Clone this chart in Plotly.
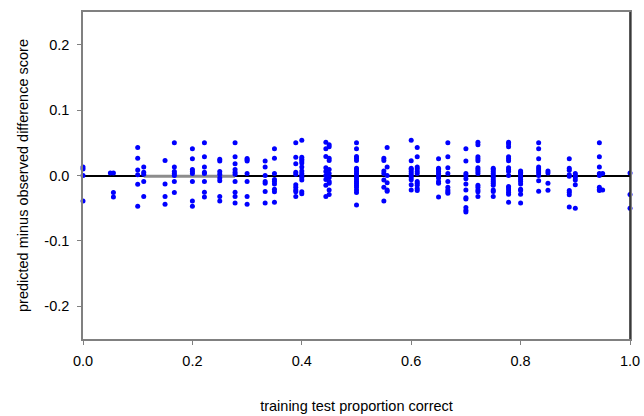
import plotly.graph_objects as go

# x positions (training test proportion correct) and the y values observed at each
x_levels = [0.0, 0.05, 0.0556, 0.1, 0.111, 0.15, 0.167, 0.2, 0.222, 0.25, 0.278, 0.3,
            0.333, 0.35, 0.389, 0.4, 0.444, 0.45, 0.5, 0.55, 0.556, 0.6, 0.611, 0.65,
            0.667, 0.7, 0.722, 0.75, 0.778, 0.8, 0.833, 0.85, 0.889, 0.9, 0.944, 0.95, 1.0]

y_groups = [
    [0.013, 0.010, 0.0, -0.039],
    [0.004],
    [0.004, -0.026, -0.033],
    [0.043, 0.0265, 0.0085, 0.001, -0.0135, -0.047],
    [0.013, 0.005, 0.002, -0.009, -0.032],
    [0.023, -0.013, -0.032, -0.044],
    [0.05, 0.013, 0.006, 0.003, 0.0, -0.009, -0.026],
    [0.041, 0.0255, 0.009, 0.006, 0.003, -0.009, -0.039, -0.047],
    [0.05, 0.0285, 0.013, 0.005, 0.003, -0.009, -0.0255, -0.033],
    [0.025, 0.022, 0.006, 0.002, -0.004, -0.008, -0.032, -0.039],
    [0.05, 0.0285, 0.018, 0.009, 0.005, 0.002, -0.009, -0.0255, -0.032, -0.042],
    [0.026, 0.024, 0.022, 0.003, -0.009, -0.032, -0.044],
    [0.022, 0.013, 0.0, -0.009, -0.012, -0.0245, -0.042],
    [0.041, 0.0265, 0.003, -0.006, -0.009, -0.013, -0.021, -0.025, -0.041],
    [0.05, 0.028, 0.018, 0.005, 0.002, -0.014, -0.018, -0.022, -0.025, -0.032],
    [0.054, 0.028, 0.025, 0.022, 0.019, 0.013, 0.007, 0.003, 0.0, -0.003, -0.007, -0.025, -0.028],
    [0.051, 0.041, 0.029, 0.012, 0.006, 0.0, -0.006, -0.015, -0.032],
    [0.047, 0.044, 0.0265, 0.023, 0.009, 0.003, -0.003, -0.009, -0.012, -0.022, -0.029],
    [0.05, 0.041, 0.029, 0.0265, 0.023, 0.011, 0.009, 0.006, 0.003, 0.0, -0.003, -0.006,
     -0.009, -0.012, -0.015, -0.018, -0.022, -0.026, -0.045],
    [0.0265, 0.023, 0.007, 0.003, -0.007, -0.018, -0.039],
    [0.043, 0.013, 0.0, -0.011, -0.022, -0.024],
    [0.054, 0.0224, 0.011, 0.009, 0.006, 0.003, 0.0, -0.003, -0.0066, -0.014, -0.022],
    [0.043, 0.0285, 0.013, 0.010, 0.006, 0.003, -0.009, -0.012, -0.015, -0.020, -0.023],
    [0.0255, 0.011, 0.009, 0.006, 0.003, 0.0, -0.004, -0.009, -0.012, -0.033],
    [0.05, 0.0285, 0.012, 0.003, -0.009, -0.018, -0.022, -0.025, -0.027],
    [0.041, 0.022, 0.003, 0.0, -0.005, -0.013, -0.022, -0.034, -0.036, -0.049, -0.053, -0.056],
    [0.051, 0.047, 0.0285, 0.0255, 0.0224, 0.012, 0.009, 0.006, 0.003, -0.015, -0.018,
     -0.022, -0.025, -0.032],
    [0.011, 0.009, 0.006, 0.003, 0.0, -0.003, -0.0066, -0.009, -0.012, -0.015, -0.022,
     -0.0245, -0.032],
    [0.051, 0.048, 0.044, 0.0285, 0.0255, 0.0224, 0.012, 0.009, 0.006, 0.0, -0.017, -0.019,
     -0.022, -0.0255, -0.0285, -0.041],
    [0.007, 0.005, 0.003, 0.0, -0.003, -0.006, -0.009, -0.013, -0.021, -0.023, -0.0285, -0.042],
    [0.05, 0.041, 0.0255, 0.013, 0.010, 0.007, 0.004, 0.0, -0.008, -0.024],
    [0.007, 0.004, -0.012, -0.0224],
    [0.0255, 0.011, 0.008, 0.001, -0.001, -0.023, -0.0255, -0.0296, -0.048],
    [0.003, 0.0, -0.003, -0.007, -0.014, -0.050],
    [0.05, 0.0285, 0.013, 0.003, 0.0, -0.018, -0.021, -0.023],
    [0.003, -0.022],
    [0.004, -0.029, -0.050],
]

# short grey trend segment lying under the zero line
trend_x = [0.111, 0.278]
trend_y = [-0.001, -0.001]

x_tickvals = [0.0, 0.2, 0.4, 0.6, 0.8, 1.0]
x_ticktext = ["0.0", "0.2", "0.4", "0.6", "0.8", "1.0"]
y_tickvals = [-0.2, -0.1, 0.0, 0.1, 0.2]
y_ticktext = ["-0.2", "-0.1", "0.0", "0.1", "0.2"]

xs, ys = [], []
for xv, grp in zip(x_levels, y_groups):
    for yv in grp:
        xs.append(xv)
        ys.append(yv)

FONT = "Liberation Sans, Arial, sans-serif"
AX = "#808080"

fig = go.Figure()
fig.add_trace(go.Scatter(x=trend_x, y=trend_y, mode="lines",
                         line=dict(color="#8c8c8c", width=3), showlegend=False,
                         hoverinfo="skip"))
fig.add_trace(go.Scatter(x=xs, y=ys, mode="markers",
                         marker=dict(color="#0000ff", size=5, line=dict(width=0)),
                         showlegend=False, cliponaxis=False))

fig.update_layout(
    width=644, height=416,
    margin=dict(l=83, r=14, t=12, b=77),
    paper_bgcolor="white", plot_bgcolor="white",
    font=dict(family=FONT, size=14.5, color="black"),
    xaxis=dict(range=[0, 1], tickvals=x_tickvals, ticktext=x_ticktext,
               automargin=False, ticklabelstandoff=4,
               showgrid=False, zeroline=False, showline=True, linecolor=AX,
               linewidth=1.5, mirror=True, ticks="outside", ticklen=4,
               tickcolor=AX, tickwidth=1.2,
               title=dict(text="training test proportion correct", standoff=33,
                          font=dict(size=14.5))),
    yaxis=dict(range=[-0.25, 0.25], tickvals=y_tickvals, ticktext=y_ticktext,
               automargin=False, ticklabelstandoff=5,
               showgrid=False, zeroline=True, zerolinecolor="black", zerolinewidth=1.5,
               showline=True, linecolor=AX, linewidth=1.5, mirror=True,
               ticks="outside", ticklen=4, tickcolor=AX, tickwidth=1.2,
               title=dict(text="predicted minus observed difference score", standoff=12,
                          font=dict(size=14.5))),
    shapes=[dict(type="line", xref="paper", yref="paper", x0=1, x1=1, y0=0, y1=1,
                 line=dict(color="#222222", width=1.5))],
)

fig.write_html("out.html", config={"displayModeBar": False},
               post_script="document.body.style.margin='0';document.body.style.overflow='hidden';")
